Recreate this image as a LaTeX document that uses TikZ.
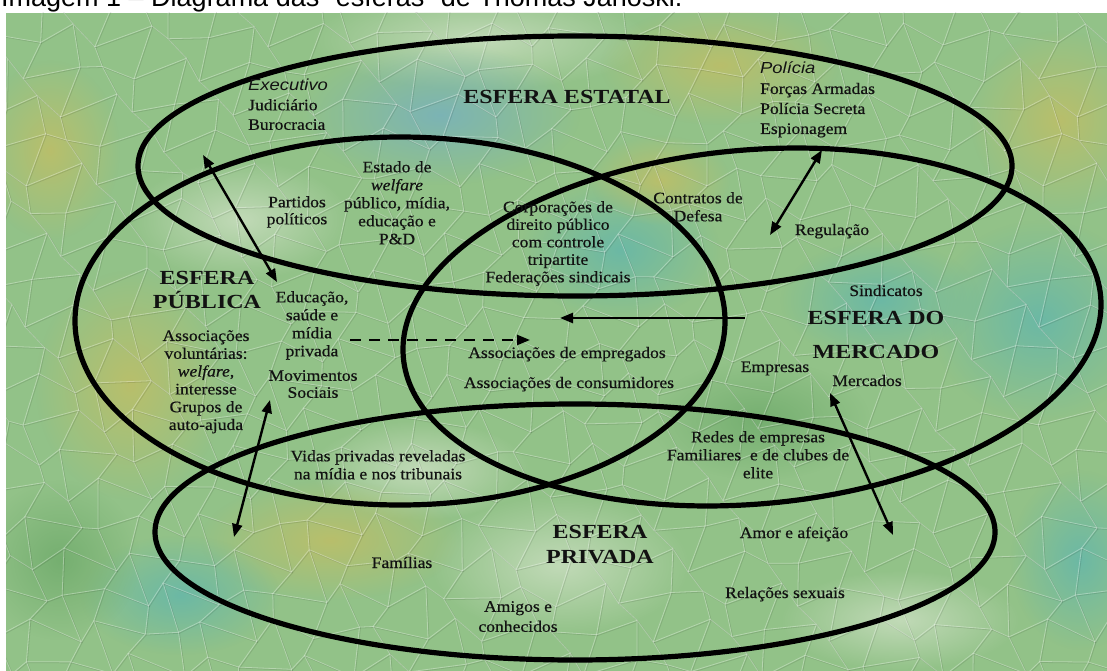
\documentclass[tikz,border=0pt]{standalone}
\usepackage{fontspec}
\setmainfont{Liberation Serif}[FakeStretch=1.1, FakeBold=0.5]
\newfontfamily\headfont{Liberation Serif}[FakeStretch=1.2]
\newfontfamily\sansit{Liberation Sans}[FakeStretch=1.15]
\newfontfamily\titlefont{Liberation Sans}
\usetikzlibrary{arrows.meta,fadings}
\definecolor{bgbase}{RGB}{146,194,136}
\definecolor{bgteal}{RGB}{98,182,172}
\definecolor{bgblue}{RGB}{118,176,192}
\definecolor{bgyellow}{RGB}{194,190,100}
\definecolor{bglight}{RGB}{205,224,195}
\definecolor{bgdark}{RGB}{110,170,106}
\definecolor{ink}{RGB}{18,18,18}
\tikzfading[name=softblob, inner color=transparent!20, outer color=transparent!100]
\begin{document}
\begin{tikzpicture}[x=1pt,y=-1pt,
  sphere/.style={draw=black, line width=5.2pt},
  dbl/.style={draw=black, line width=2.4pt, {Triangle[length=13pt,width=10pt]}-{Triangle[length=13pt,width=10pt]}},
  single/.style={draw=black, line width=2.4pt, -{Triangle[length=13pt,width=10pt]}},
  dashedarrow/.style={single, dash pattern=on 11pt off 8pt},
  txt/.style={font=\fontsize{16}{18}\selectfont, text=ink, align=center, inner sep=0pt},
  head/.style={font=\headfont\bfseries\fontsize{20}{24}\selectfont, text=ink, align=center, inner sep=0pt},
  blob/.style={path fading=softblob},
  crack/.style={draw=white, draw opacity=0.32, line width=0.8pt, line join=round},
  crackshadow/.style={draw=black, draw opacity=0.10, line width=0.8pt, line join=round},
]
\useasboundingbox (0,0) rectangle (1107,671);
\fill[white] (0,0) rectangle (1107,671);
\node[anchor=base west, inner sep=0pt, font=\titlefont\fontsize{27}{30}\selectfont] (title) at (1,7) {Imagem 1 – Diagrama das “esferas” de Thomas Janoski.};
% background
\begin{scope}
\clip (6,13) rectangle (1107,671);
\fill[bgbase] (6,13) rectangle (1107,671);
\fill[bglight, blob] (480,40) ellipse [x radius=170, y radius=50];
\fill[bgblue, blob] (440,115) ellipse [x radius=140, y radius=70];
\fill[bgyellow, blob] (720,65) ellipse [x radius=120, y radius=60];
\fill[bgyellow, blob] (1060,120) ellipse [x radius=90, y radius=90];
\fill[bgteal, blob] (1040,320) ellipse [x radius=110, y radius=100];
\fill[bgteal, blob] (880,300) ellipse [x radius=100, y radius=60];
\fill[bgyellow, blob] (130,385) ellipse [x radius=95, y radius=115];
\fill[bgyellow, blob] (50,150) ellipse [x radius=70, y radius=90];
\fill[bglight, blob] (240,220) ellipse [x radius=110, y radius=60];
\fill[bglight, blob] (420,470) ellipse [x radius=110, y radius=50];
\fill[bgyellow, blob] (330,540) ellipse [x radius=130, y radius=60];
\fill[bgteal, blob] (180,595) ellipse [x radius=100, y radius=60];
\fill[bglight, blob] (560,565) ellipse [x radius=130, y radius=70];
\fill[bgteal, blob] (620,250) ellipse [x radius=100, y radius=70];
\fill[bgdark, blob] (760,420) ellipse [x radius=110, y radius=60];
\fill[bgteal, blob] (1080,560) ellipse [x radius=70, y radius=90];
\fill[bgyellow, blob] (660,180) ellipse [x radius=70, y radius=45];
\fill[bgdark, blob] (60,560) ellipse [x radius=80, y radius=80];
\fill[bglight, blob] (900,620) ellipse [x radius=120, y radius=50];
% cracked texture
\foreach \i in {0,...,32}{
  \foreach \j in {0,...,19}{
    \pgfmathsetmacro\xa{\i*35+12*sin(\i*137+\j*251)}
    \pgfmathsetmacro\ya{\j*35+12*cos(\i*211+\j*97)}
    \pgfmathsetmacro\xb{(\i+1)*35+12*sin((\i+1)*137+\j*251)}
    \pgfmathsetmacro\yb{\j*35+12*cos((\i+1)*211+\j*97)}
    \pgfmathsetmacro\xc{\i*35+12*sin(\i*137+(\j+1)*251)}
    \pgfmathsetmacro\yc{(\j+1)*35+12*cos(\i*211+(\j+1)*97)}
    \draw[crackshadow] (\xb+1,\yb+1) -- (\xa+1,\ya+1) -- (\xc+1,\yc+1);
    \draw[crack] (\xb,\yb) -- (\xa,\ya) -- (\xc,\yc);
  }
}
\end{scope}
% spheres
\draw[sphere] (575,166) ellipse [x radius=437, y radius=130];
\draw[sphere] (400,321) ellipse [x radius=325, y radius=184];
\draw[sphere, rotate around={5:(752,327)}] (752,327) ellipse [x radius=350, y radius=177];
\draw[sphere] (575,532) ellipse [x radius=420, y radius=128];
% arrows
\coordinate (a1) at (203,155); \coordinate (a2) at (277,282);
\coordinate (b1) at (270,400); \coordinate (b2) at (234,537);
\coordinate (c1) at (822,150); \coordinate (c2) at (770,235);
\coordinate (d1) at (830,393); \coordinate (d2) at (893,535);
\coordinate (e1) at (745,318); \coordinate (e2) at (560,318);
\coordinate (f1) at (350,340); \coordinate (f2) at (530,340);
\draw[dbl] (a1) -- (a2);
\draw[dbl] (b1) -- (b2);
\draw[dbl] (c1) -- (c2);
\draw[dbl] (d1) -- (d2);
\draw[single] (e1) -- (e2);
\draw[dashedarrow] (f1) -- (f2);
% texts
\node[txt, align=left, anchor=north west, font=\fontsize{16}{19.5}\selectfont] (exec) at (248,79) {{\sansit\itshape Executivo}\\ Judiciário\\ Burocracia};
\node[head] (estatal) at (567,97) {ESFERA ESTATAL};
\node[txt, align=left, anchor=north west, font=\fontsize{16}{20}\selectfont] (policia) at (760,62) {{\sansit\itshape Polícia}\\ Forças Armadas\\ Polícia Secreta\\ Espionagem};
\node[txt, anchor=north] (welfare) at (397,161) {Estado de\\ \textit{welfare}\\ público, mídia,\\ educação e\\ P\&D};
\node[txt, anchor=north, font=\fontsize{16}{17}\selectfont] (partidos) at (297,196) {Partidos\\ políticos};
\node[txt, anchor=north, font=\fontsize{16}{17.5}\selectfont] (corp) at (558,201) {Corporações de\\ direito público\\ com controle\\ tripartite\\ Federações sindicais};
\node[txt, anchor=north] (contratos) at (698,192) {Contratos de\\ Defesa};
\node[txt, anchor=base] (regul) at (832,235) {Regulação};
\node[head, anchor=north] (publica) at (207,271) {ESFERA\\ PÚBLICA};
\node[txt, anchor=north, font=\fontsize{16}{17.8}\selectfont] (assoc) at (206,330) {Associações\\ voluntárias:\\ \textit{welfare},\\ interesse\\ Grupos de\\ auto-ajuda};
\node[txt, anchor=north] (educ) at (312,291) {Educação,\\ saúde e\\ mídia\\ privada};
\node[txt, anchor=north, font=\fontsize{16}{17}\selectfont] (movim) at (313,370) {Movimentos\\ Sociais};
\node[txt, anchor=base] (empreg) at (567,358) {Associações de empregados};
\node[txt, anchor=base] (consum) at (569,388) {Associações de consumidores};
\node[txt, anchor=base] (sindic) at (886,296) {Sindicatos};
\node[head, anchor=north, font=\headfont\bfseries\fontsize{20}{34}\selectfont] (mercado) at (876,311) {ESFERA DO\\ MERCADO};
\node[txt, anchor=base] (empresas) at (775,372) {Empresas};
\node[txt, anchor=base] (mercados) at (867,386) {Mercados};
\node[txt, anchor=north] (redes) at (758,431) {Redes de empresas\\ Familiares\ \ e de clubes de\\ elite};
\node[txt, anchor=base] (amor) at (794,538) {Amor e afeição};
\node[txt, anchor=north] (vidas) at (378,450) {Vidas privadas reveladas\\ na mídia e nos tribunais};
\node[head, anchor=north, font=\headfont\bfseries\fontsize{20}{25}\selectfont] (privada) at (600,525) {ESFERA\\ PRIVADA};
\node[txt, anchor=base] (familias) at (402,568) {Famílias};
\node[txt, anchor=north, font=\fontsize{16}{20}\selectfont] (amigos) at (518,601) {Amigos e\\ conhecidos};
\node[txt, anchor=base] (relacoes) at (785,598) {Relações sexuais};
\end{tikzpicture}
\end{document}
